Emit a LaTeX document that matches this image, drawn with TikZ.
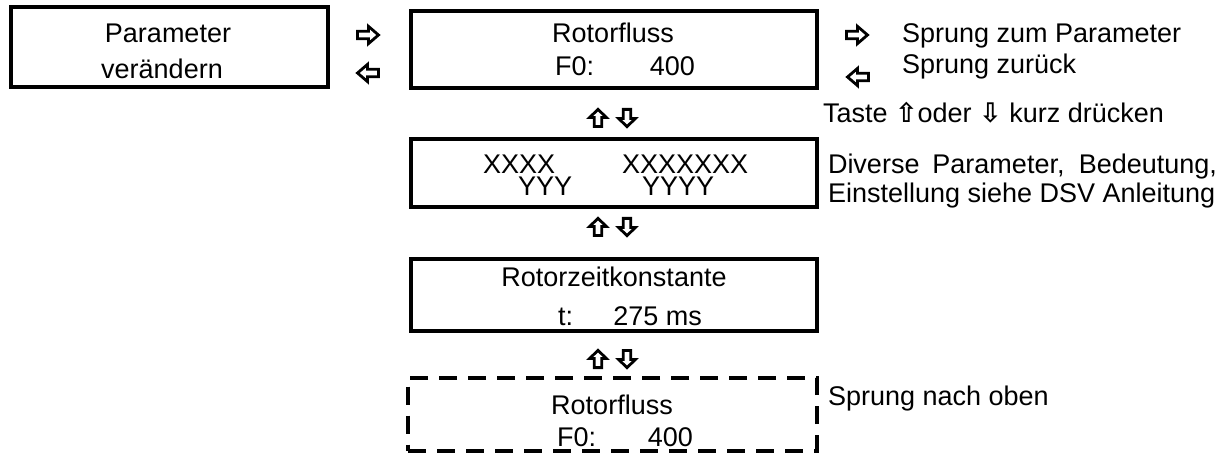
\documentclass[tikz,border=0pt]{standalone}
\usepackage{fontspec}
\setmainfont{Liberation Sans}
\newfontfamily\sym{DejaVu Sans}
\begin{document}
\begin{tikzpicture}[x=1pt,y=-1pt,
  every node/.style={inner sep=0pt, outer sep=0pt, font=\fontsize{27}{32}\selectfont},
  box/.style={draw, line width=4pt, rectangle},
  dbox/.style={draw, line width=4pt, rectangle, dash pattern=on 18pt off 11pt},
  txt/.style={anchor=base},
  txtw/.style={anchor=base west},
  txte/.style={anchor=base east},
  pics/harrow/.style={code={
    \draw[line width=2.8pt, line join=miter, fill=white]
      (-10.5,-3.8) -- (0.5,-3.8) -- (0.5,-8.6) -- (10.5,0) -- (0.5,8.6) -- (0.5,3.8) -- (-10.5,3.8) -- cycle;}},
  pics/varrow/.style={code={
    \draw[line width=2.8pt, line join=miter, fill=white]
      (-8.6,-3.8) -- (0.5,-3.8) -- (0.5,-8.4) -- (8.6,0) -- (0.5,8.4) -- (0.5,3.8) -- (-8.6,3.8) -- cycle;}}]
\useasboundingbox (0,0) rectangle (1231,454);
% boxes
\node[box, minimum width=317pt, minimum height=80pt] (b1) at (169,47) {};
\node[box, minimum width=406pt, minimum height=77pt] (b2) at (613.5,49.5) {};
\node[box, minimum width=406pt, minimum height=68pt] (b3) at (613.5,173.5) {};
\node[box, minimum width=406pt, minimum height=71.5pt] (b4) at (613.5,294.75) {};
\node[dbox, minimum width=408.5pt, minimum height=73pt] (b5) at (612.25,414) {};
% box texts
\node[txt] (t1a) at (168,43) {Parameter};
\node[txt] (t1b) at (162,79) {verändern};
\node[txt] (t2a) at (613,43) {Rotorfluss};
\node[txtw] (t2b) at (555,76) {F0:};
\node[txte] (t2c) at (695,76) {400};
\node[txtw] (t3a) at (483,174) {XXXX};
\node[txtw] (t3b) at (622,174) {XXXXXXX};
\node[txtw] (t3c) at (518,196) {YYY};
\node[txtw] (t3d) at (642,196) {YYYY};
\node[txt] (t4a) at (614,287) {Rotorzeitkonstante};
\node[txtw] (t4b) at (558,325) {t:};
\node[txte] (t4c) at (702,325) {275 ms};
\node[txt] (t5a) at (612,414) {Rotorfluss};
\node[txtw] (t5b) at (557,446) {F0:};
\node[txte] (t5c) at (693,446) {400};
% arrows between boxes
\pic at (368,35) {harrow};
\pic[rotate=180] at (368,73) {harrow};
\pic at (857,35) {harrow};
\pic[rotate=180] at (858,77) {harrow};
\foreach \yy in {118,227,359}{
  \pic[rotate=90] at (598,\yy) {varrow};
  \pic[rotate=-90] at (627,\yy) {varrow};
}
% right texts
\node[txtw] (r1) at (902,43) {Sprung zum Parameter};
\node[txtw] (r2) at (902,74) {Sprung zurück};
\node[txtw] (r3) at (823,123) {Taste {\sym\bfseries ⇧}oder {\sym\bfseries ⇩} kurz drücken};
\node[txtw] (r4) at (828,174) {\makebox[389pt][s]{Diverse Parameter, Bedeutung,}};
\node[txtw] (r5) at (828,203) {Einstellung siehe DSV Anleitung};
\node[txtw] (r6) at (828,405) {Sprung nach oben};
\end{tikzpicture}
\end{document}
